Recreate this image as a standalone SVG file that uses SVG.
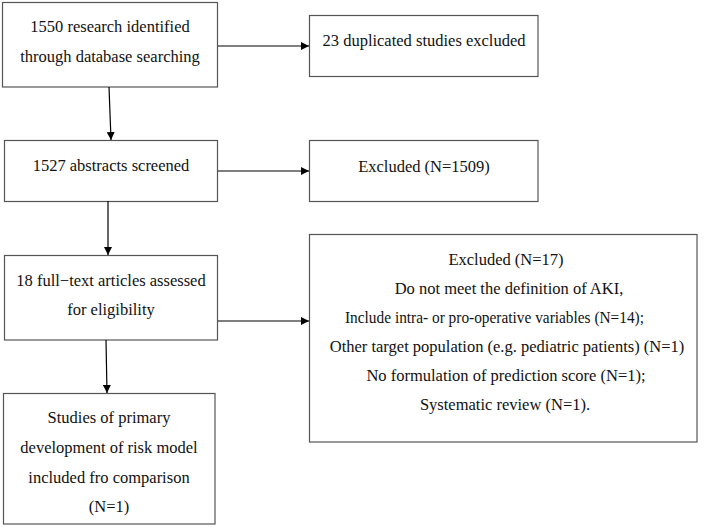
<svg xmlns="http://www.w3.org/2000/svg" width="706" height="527" viewBox="0 0 706 527">
<defs>
<marker id="ah" viewBox="0 0 10 10" refX="10" refY="5" markerWidth="8" markerHeight="8" markerUnits="userSpaceOnUse" orient="auto">
<path d="M0,0 L10,5 L0,10 z" fill="#000"/>
</marker>
<style>
rect{fill:#fff;stroke:#555;stroke-width:1.2}
text{font-size:16.5px;fill:#111;text-anchor:middle}
.c line{stroke:#000;stroke-width:1.2;marker-end:url(#ah)}
</style>
</defs>
<rect x="0" y="0" width="706" height="527" style="fill:#fff;stroke:none"/>
<g font-family="Liberation Serif, DejaVu Serif, serif">
<g id="n1"><rect x="2.5" y="2.5" width="215" height="84.5"/><text x="110" y="32">1550 research identified</text><text x="110" y="62">through database searching</text></g>
<g id="n2"><rect x="309.5" y="15.5" width="228.5" height="61"/><text x="424" y="46">23 duplicated studies excluded</text></g>
<g id="n3"><rect x="4.5" y="140.5" width="213" height="61"/><text x="111" y="171">1527 abstracts screened</text></g>
<g id="n4"><rect x="309.5" y="140.5" width="228.5" height="61"/><text x="424" y="172">Excluded (N=1509)</text></g>
<g id="n5"><rect x="4.5" y="255.5" width="213" height="84.5"/><text x="111" y="286">18 full−text articles assessed</text><text x="111" y="315">for eligibility</text></g>
<g id="n6"><rect x="309.5" y="234.5" width="387.5" height="207.5"/>
<text x="506" y="265">Excluded (N=17)</text>
<text x="509" y="294">Do not meet the definition of AKI,</text>
<text x="494.5" y="323" textLength="299" lengthAdjust="spacingAndGlyphs">Include intra- or pro-operative variables (N=14);</text>
<text x="507" y="352">Other target population (e.g. pediatric patients) (N=1)</text>
<text x="506" y="381">No formulation of prediction score (N=1);</text>
<text x="505" y="410">Systematic review (N=1).</text></g>
<g id="n7"><rect x="3.5" y="393.5" width="211.5" height="130.5"/><text x="109" y="423">Studies of primary</text><text x="109" y="453">development of risk model</text><text x="109" y="483">included fro comparison</text><text x="109" y="512">(N=1)</text></g>
</g>
<g class="c" id="connectors">
<line x1="218" y1="46" x2="309" y2="46"/>
<line x1="109" y1="87" x2="111" y2="140"/>
<line x1="218" y1="171" x2="309" y2="171"/>
<line x1="108" y1="201" x2="108" y2="255"/>
<line x1="218" y1="321" x2="309" y2="321"/>
<line x1="106" y1="340" x2="107" y2="393"/>
</g>
</svg>
